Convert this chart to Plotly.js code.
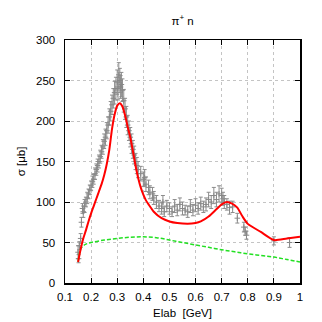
<!DOCTYPE html>
<html>
<head>
<meta charset="utf-8">
<script src="https://cdn.plot.ly/plotly-3.0.1.min.js"></script>
<style>html,body{margin:0;padding:0;background:#fff;}#chart{width:322px;height:322px;}</style>
</head>
<body>
<div id="chart"></div>
<script>
// Experimental data (Elab in GeV, sigma in microbarn, error)
const dataE = [0.150,0.152,0.155,0.160,0.163,0.167,0.170,0.175,0.180,0.185,0.190,0.195,0.200,0.205,0.210,0.215,0.220,0.225,0.230,0.235,0.240,0.245,0.250,0.255,0.260,0.265,0.270,0.275,0.280,0.285,0.290,0.295,0.300,0.303,0.306,0.310,0.313,0.316,0.320,0.325,0.330,0.335,0.340,0.345,0.350,0.355,0.360,0.365,0.370,0.375,0.380,0.390,0.400,0.405,0.410,0.420,0.425,0.435,0.440,0.450,0.460,0.470,0.475,0.480,0.490,0.500,0.510,0.520,0.530,0.540,0.550,0.560,0.570,0.580,0.590,0.600,0.610,0.620,0.630,0.640,0.650,0.660,0.670,0.680,0.690,0.700,0.705,0.710,0.720,0.730,0.742,0.760,0.785,0.790,0.795,0.900,0.960];
const dataSigma = [38,30,46,55,75,92,88,95,100,105,110,115,120,125,128,135,140,145,150,156,162,168,175,180,188,195,205,212,220,228,235,240,248,240,257,250,242,245,238,225,215,205,195,188,180,172,165,158,150,145,140,135,128,130,122,118,112,110,105,100,95,92,100,88,95,92,88,95,90,97,92,90,88,95,90,96,92,98,94,97,103,100,108,103,110,108,104,100,97,93,94,80,69,64,59,52,50];
const dataErr = [8,5,5,6,6,6,7,8,6,7,6,6,6,7,6,7,7,8,8,8,8,9,9,10,10,10,10,12,12,12,14,14,15,14,15,15,14,15,14,14,13,13,12,12,12,12,11,11,10,10,10,9,9,10,9,9,8,8,8,8,7,7,8,6,7,7,6,8,7,8,8,6,7,8,7,8,7,8,7,8,9,8,10,9,10,9,8,8,7,8,7,6,6,5,5,5,6];

// Model: total (red)
const totalE = [0.15,0.16,0.17,0.18,0.19,0.20,0.21,0.22,0.23,0.24,0.25,0.26,0.27,0.28,0.29,0.30,0.31,0.32,0.33,0.34,0.35,0.36,0.37,0.38,0.39,0.40,0.41,0.42,0.44,0.47,0.50,0.53,0.57,0.60,0.62,0.65,0.68,0.70,0.72,0.74,0.76,0.78,0.80,0.85,0.90,0.95,1.00];
const totalSigma = [26,42,55,65,76,86,95,104,113,122,133,147,165,190,208,219,222,218,207,193,180,163,145,130,118,109,102,97,88,80,76,74,73,74,76,82,91,97,100,98,93,82,73,63,53,55,57];

// Model: background (green dashed)
const bgE = [0.15,0.155,0.16,0.17,0.18,0.20,0.25,0.30,0.35,0.40,0.45,0.50,0.55,0.60,0.65,0.70,0.75,0.80,0.85,0.90,0.95,1.00];
const bgSigma = [26,36,42,46,48,50,53,55,56.5,57,56,53,50,47,44,41,38.5,36,34,32,29,26];

const xTickVals = [0.1,0.2,0.3,0.4,0.5,0.6,0.7,0.8,0.9,1.0];
const xTickText = ["0.1","0.2","0.3","0.4","0.5","0.6","0.7","0.8","0.9","1"];
const yTickVals = [0,50,100,150,200,250,300];

const font = {family: '"Liberation Sans", Arial, sans-serif', size: 11.5, color: '#000'};

const traces = [
  {
    x: dataE, y: dataSigma, type: 'scatter', mode: 'markers',
    marker: {symbol: 'cross-thin', size: 4, color: '#888', line: {color: '#888', width: 1}},
    error_y: {type: 'data', array: dataErr, visible: true, color: '#8c8c8c', thickness: 1, width: 2},
    hoverinfo: 'skip'
  },
  {
    x: bgE, y: bgSigma, type: 'scatter', mode: 'lines',
    line: {color: '#22e022', width: 1.5, dash: '4px,2px', shape: 'spline'}
  },
  {
    x: totalE, y: totalSigma, type: 'scatter', mode: 'lines',
    line: {color: '#ff0000', width: 2, shape: 'spline', smoothing: 0.6}
  }
];

const axisCommon = {
  showline: true, linecolor: '#000', linewidth: 1.5, mirror: 'ticks',
  ticks: 'inside', ticklen: 5, tickcolor: '#000', tickwidth: 1,
  showgrid: true, gridcolor: '#c4c4c4', griddash: 'dot', gridwidth: 1,
  zeroline: false, tickfont: font
};

const layout = {
  width: 322, height: 322,
  margin: {l: 65, r: 22, t: 40, b: 39},
  paper_bgcolor: '#fff', plot_bgcolor: '#fff',
  showlegend: false,
  title: {text: 'π<sup>+</sup> n', font: font, x: 0.567, xanchor: 'center', y: 0.935, yanchor: 'middle'},
  xaxis: Object.assign({}, axisCommon, {
    range: [0.1, 1.0], tickvals: xTickVals, ticktext: xTickText, ticklabelstandoff: 3,
    title: {text: 'Elab  [GeV]', font: font, standoff: 6}
  }),
  yaxis: Object.assign({}, axisCommon, {
    range: [0, 300], tickvals: yTickVals, ticklabelstandoff: 6,
    title: {text: 'σ [μb]', font: font, standoff: 8}
  })
};

Plotly.newPlot('chart', traces, layout, {staticPlot: true, displayModeBar: false});
</script>
</body>
</html>
